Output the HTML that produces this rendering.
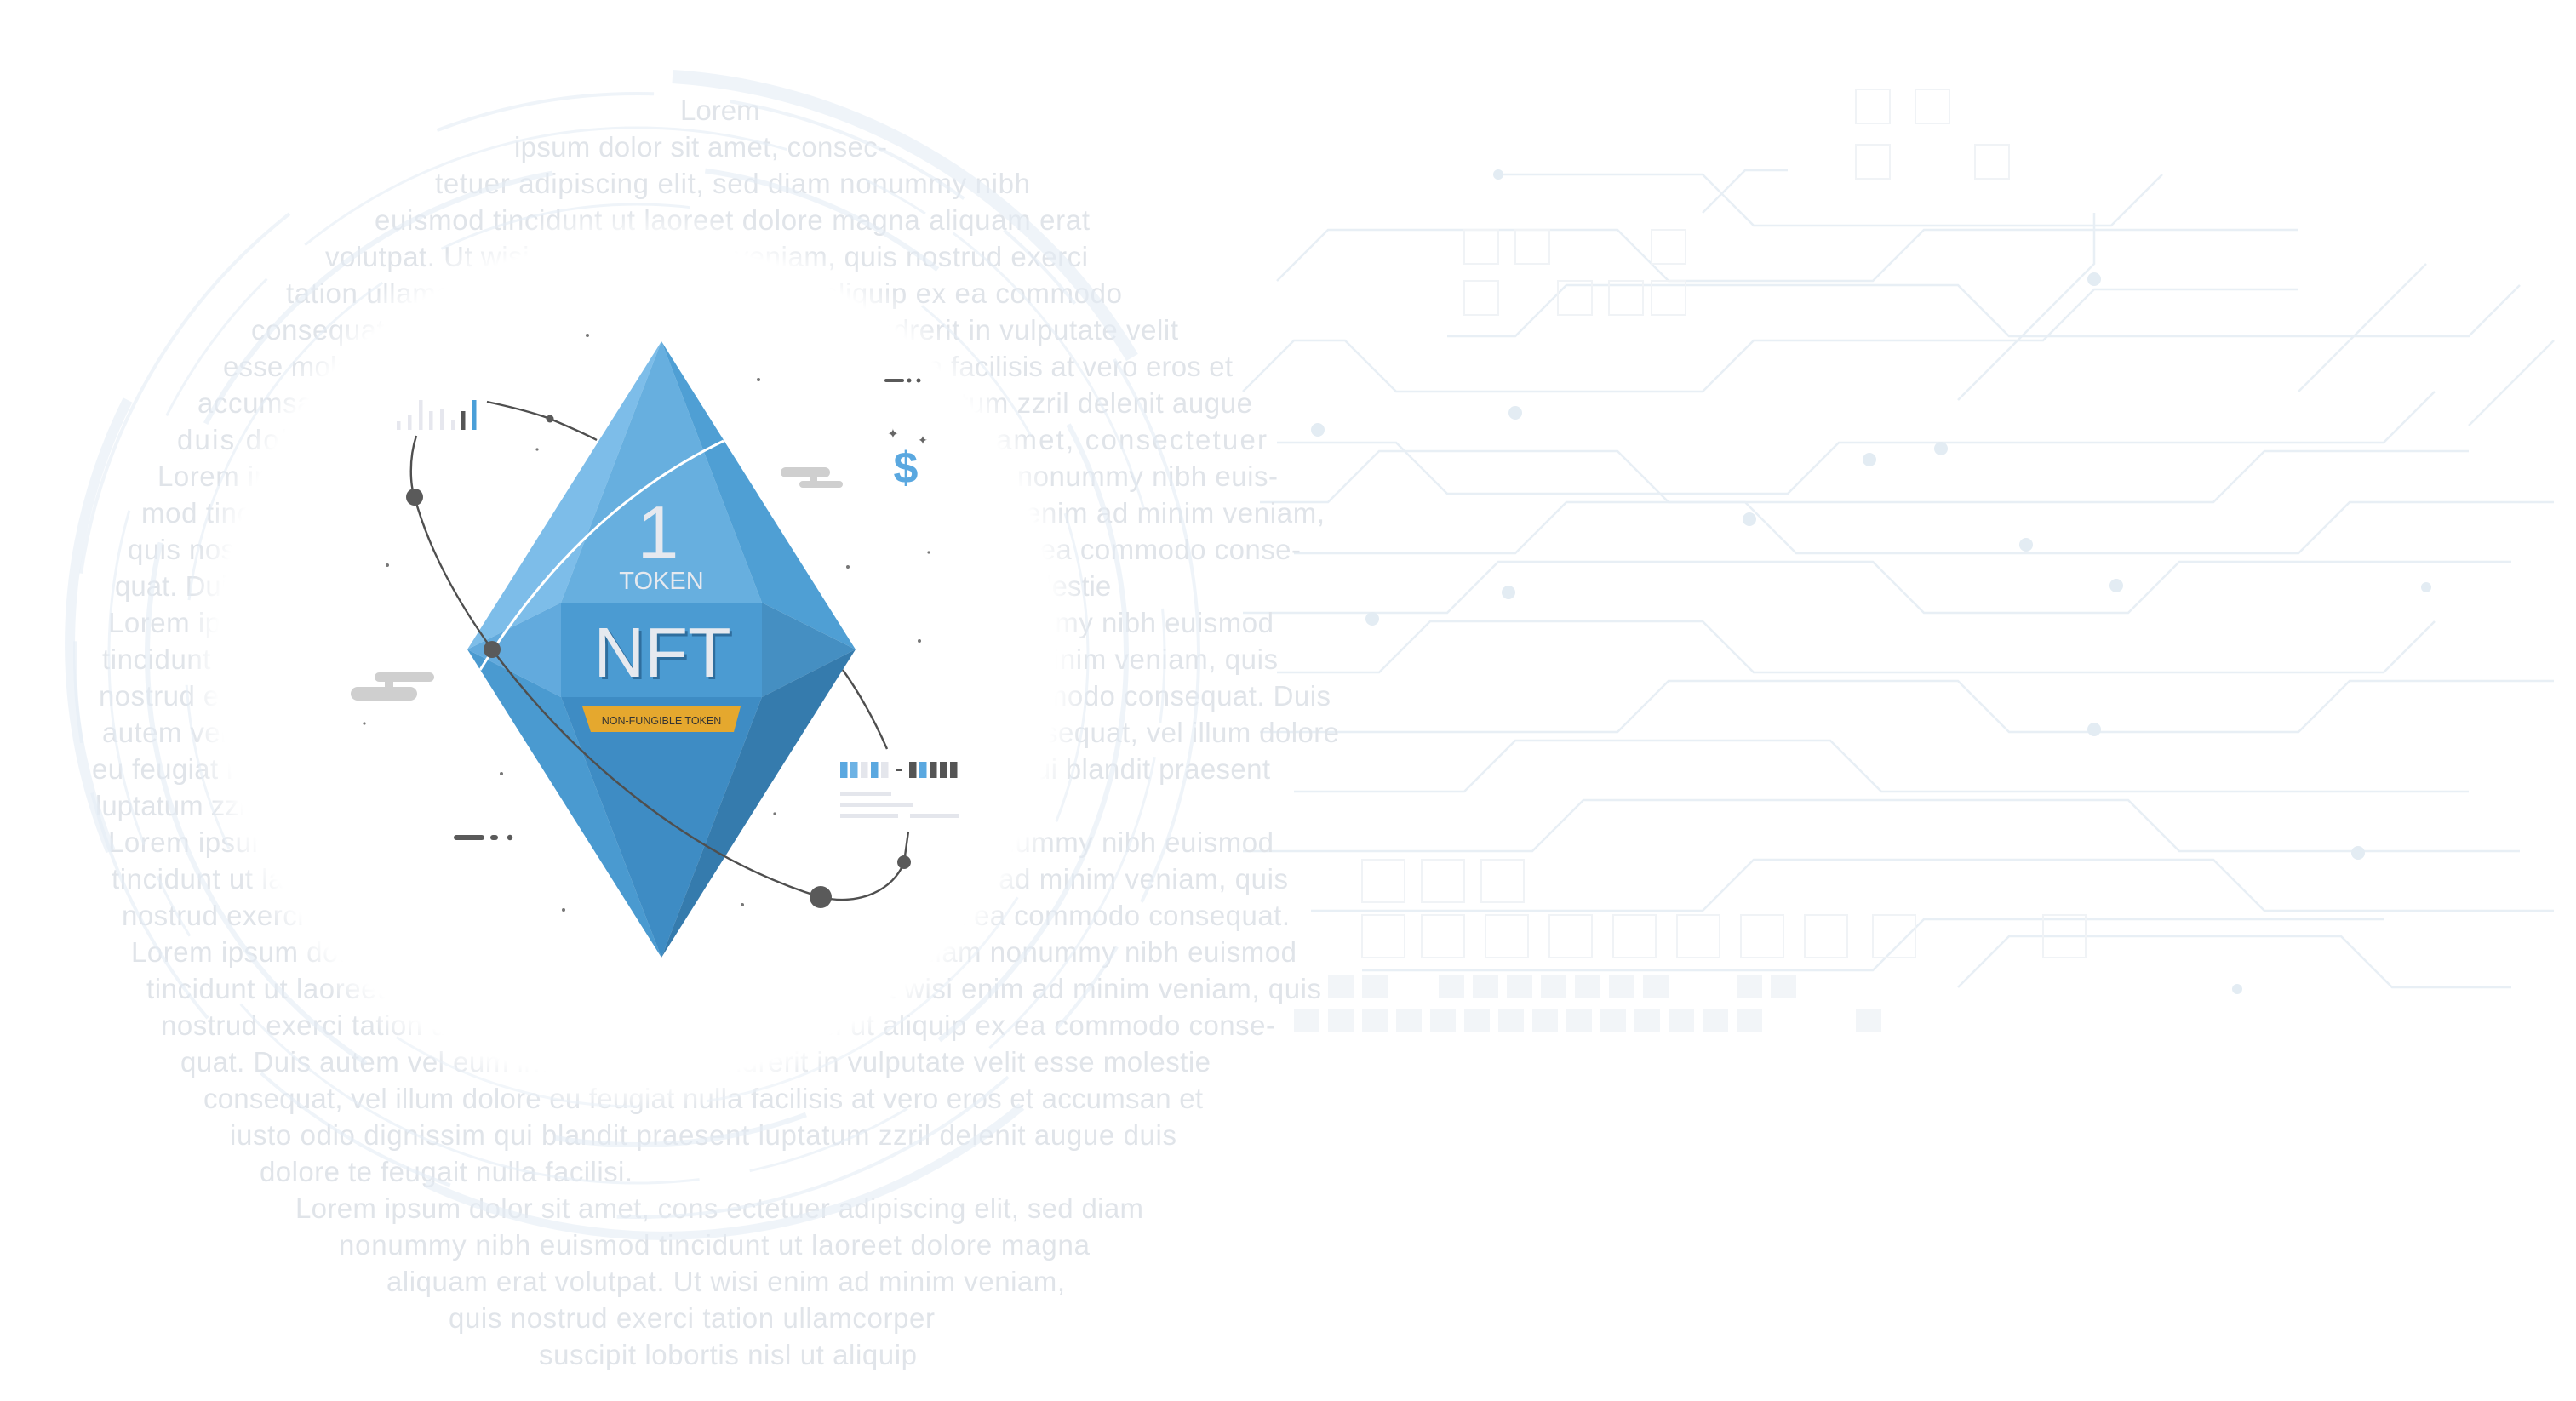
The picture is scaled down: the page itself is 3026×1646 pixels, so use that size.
<!DOCTYPE html>
<html><head><meta charset="utf-8"><style>
html,body{margin:0;padding:0;background:#fff;}
svg{display:block;}
</style></head><body>
<svg width="3026" height="1646" viewBox="0 0 3026 1646" xmlns="http://www.w3.org/2000/svg">
<defs>
<radialGradient id="wg" cx="0.5" cy="0.5" r="0.5">
<stop offset="0.93" stop-color="#fff" stop-opacity="1"/>
<stop offset="1" stop-color="#fff" stop-opacity="0"/>
</radialGradient>
</defs>
<rect width="3026" height="1646" fill="#ffffff"/>

<g fill="none" stroke="#e8eff5" stroke-width="2.5">
<polyline points="1760,205 2000,205 2060,265 2480,265 2540,205"/>
<polyline points="1500,330 1560,270 1900,270 1960,330 2200,330 2260,270 2700,270"/>
<polyline points="1700,395 1780,395 1840,335 2300,335 2360,395 2900,395 2960,335"/>
<polyline points="1460,460 1520,400 1580,400 1640,460 2000,460 2060,400 2400,400 2460,340 2700,340"/>
<polyline points="1500,520 1640,520 1700,580 2100,580 2160,520 2800,520 2860,460"/>
<polyline points="1480,590 1560,590 1620,530 1900,530 1960,590 2600,590 2660,530 2900,530"/>
<polyline points="1520,650 1780,650 1840,590 2050,590 2110,650 2700,650 2760,590 3000,590"/>
<polyline points="1460,720 1700,720 1760,660 2200,660 2260,720 2500,720 2560,660 2950,660"/>
<polyline points="1500,790 1620,790 1680,730 2000,730 2060,790 2800,790 2860,730"/>
<polyline points="1480,860 1900,860 1960,800 2300,800 2360,860 2700,860 2760,800 3000,800"/>
<polyline points="1520,930 1720,930 1780,870 2150,870 2210,930 2900,930"/>
<polyline points="1460,1000 1800,1000 1860,940 2500,940 2560,1000 2960,1000"/>
<polyline points="1540,1070 2000,1070 2060,1010 2600,1010 2660,1070 3000,1070"/>
<polyline points="1600,1140 2200,1140 2260,1080 2800,1080"/>
<polyline points="2300,1160 2360,1100 2750,1100 2810,1160 2950,1160"/>
<polyline points="2300,470 2460,310 2460,250"/>
<polyline points="2700,460 2850,310"/>
<polyline points="2900,500 3000,400"/>
<polyline points="2000,250 2050,200 2100,200"/>
<g fill="#e3ecf3" stroke="none">
<circle cx="1548" cy="505" r="8"/><circle cx="1780" cy="485" r="8"/><circle cx="2196" cy="540" r="8"/>
<circle cx="2280" cy="527" r="8"/><circle cx="2460" cy="328" r="8"/><circle cx="2055" cy="610" r="8"/>
<circle cx="2380" cy="640" r="8"/><circle cx="2486" cy="688" r="8"/><circle cx="1612" cy="727" r="8"/>
<circle cx="1772" cy="696" r="8"/><circle cx="2460" cy="857" r="8"/><circle cx="2770" cy="1002" r="8"/>
<circle cx="2628" cy="1162" r="6"/><circle cx="2850" cy="690" r="6"/><circle cx="1760" cy="205" r="6"/>
</g>
<g stroke="#f0f3f6" stroke-width="2">
<rect x="1720" y="270" width="40" height="40"/><rect x="1780" y="270" width="40" height="40"/><rect x="1940" y="270" width="40" height="40"/>
<rect x="1720" y="330" width="40" height="40"/><rect x="1830" y="330" width="40" height="40"/><rect x="1890" y="330" width="40" height="40"/><rect x="1940" y="330" width="40" height="40"/>
<rect x="2180" y="105" width="40" height="40"/><rect x="2250" y="105" width="40" height="40"/><rect x="2180" y="170" width="40" height="40"/><rect x="2320" y="170" width="40" height="40"/>
<rect x="1600" y="1010" width="50" height="50"/><rect x="1670" y="1010" width="50" height="50"/><rect x="1740" y="1010" width="50" height="50"/>
<rect x="1600" y="1075" width="50" height="50"/><rect x="1670" y="1075" width="50" height="50"/><rect x="1745" y="1075" width="50" height="50"/><rect x="1820" y="1075" width="50" height="50"/><rect x="1895" y="1075" width="50" height="50"/><rect x="1970" y="1075" width="50" height="50"/><rect x="2045" y="1075" width="50" height="50"/><rect x="2120" y="1075" width="50" height="50"/><rect x="2200" y="1075" width="50" height="50"/><rect x="2400" y="1075" width="50" height="50"/>
</g>
<g fill="#f2f5f8" stroke="none">
<rect x="1560" y="1145" width="30" height="28"/><rect x="1600" y="1145" width="30" height="28"/><rect x="1690" y="1145" width="30" height="28"/><rect x="1730" y="1145" width="30" height="28"/><rect x="1770" y="1145" width="30" height="28"/><rect x="1810" y="1145" width="30" height="28"/><rect x="1850" y="1145" width="30" height="28"/><rect x="1890" y="1145" width="30" height="28"/><rect x="1930" y="1145" width="30" height="28"/><rect x="2040" y="1145" width="30" height="28"/><rect x="2080" y="1145" width="30" height="28"/>
<rect x="1520" y="1185" width="30" height="28"/><rect x="1560" y="1185" width="30" height="28"/><rect x="1600" y="1185" width="30" height="28"/><rect x="1640" y="1185" width="30" height="28"/><rect x="1680" y="1185" width="30" height="28"/><rect x="1720" y="1185" width="30" height="28"/><rect x="1760" y="1185" width="30" height="28"/><rect x="1800" y="1185" width="30" height="28"/><rect x="1840" y="1185" width="30" height="28"/><rect x="1880" y="1185" width="30" height="28"/><rect x="1920" y="1185" width="30" height="28"/><rect x="1960" y="1185" width="30" height="28"/><rect x="2000" y="1185" width="30" height="28"/><rect x="2040" y="1185" width="30" height="28"/><rect x="2180" y="1185" width="30" height="28"/>
</g>
</g>

<g font-family="Liberation Sans, sans-serif" font-size="33" fill="#e0e4e9" lengthAdjust="spacingAndGlyphs">
<text x="799" y="141">Lorem</text>
<text x="604" y="184" textLength="438">ipsum dolor sit amet, consec-</text>
<text x="511" y="227" textLength="699">tetuer adipiscing elit, sed diam nonummy nibh</text>
<text x="440" y="270" textLength="840">euismod tincidunt ut laoreet dolore magna aliquam erat</text>
<text x="382" y="313" textLength="896">volutpat. Ut wisi enim ad minim veniam, quis nostrud exerci</text>
<text x="336" y="356" textLength="982">tation ullamcorper suscipit lobortis nisl ut aliquip ex ea commodo</text>
<text x="295" y="399" textLength="1089">consequat. Duis autem vel eum iriure dolor in hendrerit in vulputate velit</text>
<text x="262" y="442" textLength="1186">esse molestie consequat, vel illum dolore eu feugiat nulla facilisis at vero eros et</text>
<text x="232" y="485" textLength="1239">accumsan et iusto odio dignissim qui blandit praesent luptatum zzril delenit augue</text>
<text x="208" y="528" textLength="1280">duis dolore te feugait nulla facilisi. Lorem ipsum dolor sit amet, consectetuer</text>
<text x="185" y="571" textLength="1316">Lorem ipsum dolor sit amet, consectetuer adipiscing elit, sed diam nonummy nibh euis-</text>
<text x="166" y="614" textLength="1390">mod tincidunt ut laoreet dolore magna aliquam erat volutpat. Ut wisi enim ad minim veniam,</text>
<text x="150" y="657" textLength="1378">quis nostrud exerci tation ullamcorper suscipit lobortis nisl ut aliquip ex ea commodo conse-</text>
<text x="135" y="700">quat. Duis autem vel eum iriure dolor in hendrerit in vulputate velit esse molestie</text>
<text x="127" y="743" textLength="1369">Lorem ipsum dolor sit amet, consectetuer adipiscing elit, sed diam nonummy nibh euismod</text>
<text x="120" y="786" textLength="1381">tincidunt ut laoreet dolore magna aliquam erat volutpat. Ut wisi enim ad minim veniam, quis</text>
<text x="116" y="829" textLength="1447">nostrud exerci tation ullamcorper suscipit lobortis nisl ut aliquip ex ea commodo consequat. Duis</text>
<text x="120" y="872" textLength="1453">autem vel eum iriure dolor in hendrerit in vulputate velit esse molestie consequat, vel illum dolore</text>
<text x="108" y="915" textLength="1384">eu feugiat nulla facilisis at vero eros et accumsan et iusto odio dignissim qui blandit praesent</text>
<text x="112" y="958">luptatum zzril delenit augue duis dolore te feugait nulla facilisi.</text>
<text x="127" y="1001" textLength="1369">Lorem ipsum dolor sit amet, consectetuer adipiscing elit, sed diam nonummy nibh euismod</text>
<text x="131" y="1044" textLength="1382">tincidunt ut laoreet dolore magna aliquam erat volutpat. Ut wisi enim ad minim veniam, quis</text>
<text x="143" y="1087" textLength="1372">nostrud exerci tation ullamcorper suscipit lobortis nisl ut aliquip ex ea commodo consequat.</text>
<text x="154" y="1130" textLength="1369">Lorem ipsum dolor sit amet, consectetuer adipiscing elit, sed diam nonummy nibh euismod</text>
<text x="172" y="1173" textLength="1380">tincidunt ut laoreet dolore magna aliquam erat volutpat. Ut wisi enim ad minim veniam, quis</text>
<text x="189" y="1216" textLength="1309">nostrud exerci tation ullamcorper suscipit lobortis nisl ut aliquip ex ea commodo conse-</text>
<text x="212" y="1259" textLength="1210">quat. Duis autem vel eum iriure dolor in hendrerit in vulputate velit esse molestie</text>
<text x="239" y="1302" textLength="1174">consequat, vel illum dolore eu feugiat nulla facilisis at vero eros et accumsan et</text>
<text x="270" y="1345" textLength="1112">iusto odio dignissim qui blandit praesent luptatum zzril delenit augue duis</text>
<text x="305" y="1388" textLength="438">dolore te feugait nulla facilisi.</text>
<text x="347" y="1431" textLength="996">Lorem ipsum dolor sit amet, cons ectetuer adipiscing elit, sed diam</text>
<text x="398" y="1474" textLength="882">nonummy nibh euismod tincidunt ut laoreet dolore magna</text>
<text x="454" y="1517" textLength="797">aliquam erat volutpat. Ut wisi enim ad minim veniam,</text>
<text x="527" y="1560" textLength="571">quis nostrud exerci tation ullamcorper</text>
<text x="633" y="1603" textLength="444">suscipit lobortis nisl ut aliquip</text>
</g>

<g fill="none" stroke="#e4edf5" stroke-opacity="0.6">
<circle cx="748" cy="770" r="660" stroke-width="4" stroke-dasharray="300 60 120 80 500 200 260 90"/>
<circle cx="748" cy="770" r="620" stroke-width="3" stroke-dasharray="80 40 400 120 200 60 600 100"/>
<circle cx="748" cy="770" r="575" stroke-width="6" stroke-dasharray="520 180 300 240 700 150"/>
<circle cx="748" cy="770" r="530" stroke-width="3" stroke-dasharray="200 100 450 80 300 300"/>
<path d="M790,90 A680,680 0 0 1 1330,420" stroke-width="16"/>
<path d="M150,470 A640,640 0 0 0 130,1000" stroke-width="12"/>
<path d="M500,1390 A660,660 0 0 0 1200,1300" stroke-width="10"/>
</g>

<circle cx="748" cy="777" r="530" fill="url(#wg)"/>

<g>
<polygon points="777,401 549,763 659,708" fill="#7dbde9"/>
<polygon points="777,401 659,708 895,708" fill="#67afdf"/>
<polygon points="777,401 895,708 1005,763" fill="#4f9fd4"/>
<polygon points="549,763 659,708 659,819" fill="#62aadd"/>
<polygon points="659,708 895,708 895,819 659,819" fill="#4b9bd2"/>
<polygon points="1005,763 895,708 895,819" fill="#458fc2"/>
<polygon points="549,763 659,819 777,1125" fill="#4a9ad0"/>
<polygon points="659,819 895,819 777,1125" fill="#3e8cc4"/>
<polygon points="895,819 1005,763 777,1125" fill="#357bad"/>
<path d="M850,518 Q680,600 564,787" fill="none" stroke="#ffffff" stroke-width="3"/>
<text x="773" y="656" text-anchor="middle" font-family="Liberation Sans, sans-serif" font-size="88" fill="#e6e9ef">1</text>
<text x="777" y="692" text-anchor="middle" font-family="Liberation Sans, sans-serif" font-size="29" fill="#e6e9ef">TOKEN</text>
<text x="781" y="798" text-anchor="middle" font-family="Liberation Sans, sans-serif" font-size="83" fill="#2f6e9e">NFT</text>
<text x="778" y="795" text-anchor="middle" font-family="Liberation Sans, sans-serif" font-size="83" fill="#e6e9ef">NFT</text>
<polygon points="684,830 870,830 862,860 694,860" fill="#e5a82e"/>
<text x="777" y="851" text-anchor="middle" font-family="Liberation Sans, sans-serif" font-size="12.5" fill="#333">NON-FUNGIBLE TOKEN</text>
</g>

<g fill="none" stroke="#4f4f4f" stroke-width="2.4">
<path d="M572,472 C600,478 625,484 646,492 C665,500 684,508 701,517"/>
<path d="M489,512 C480,540 482,570 487,584 C505,650 540,710 578,763 C680,900 820,1010 964,1054 C1010,1065 1050,1045 1062,1013 L1067,977"/>
<path d="M990,787 C1010,815 1028,848 1042,880"/>
</g>
<g fill="#5a5a5a">
<circle cx="646" cy="492" r="4.5"/><circle cx="487" cy="584" r="10"/><circle cx="578" cy="763" r="10"/>
<circle cx="964" cy="1054" r="13"/><circle cx="1062" cy="1013" r="8"/>
</g>

<g>
<rect x="466" y="495" width="4.5" height="10" fill="#e6e7ee"/>
<rect x="479" y="488" width="4.5" height="17" fill="#e6e7ee"/>
<rect x="492" y="470" width="4.5" height="35" fill="#e6e7ee"/>
<rect x="504" y="483" width="4.5" height="22" fill="#e6e7ee"/>
<rect x="517" y="480" width="4.5" height="25" fill="#e6e7ee"/>
<rect x="530" y="493" width="4.5" height="12" fill="#e6e7ee"/>
<rect x="542" y="483" width="4.5" height="22" fill="#555"/>
<rect x="555" y="470" width="4.5" height="35" fill="#4a9fd8"/>
</g>

<g fill="#cfcfcf">
<rect x="440" y="790" width="70" height="11" rx="5.5"/>
<rect x="412" y="807" width="78" height="16" rx="8"/>
<rect x="452" y="798" width="10" height="12"/>
</g>
<g fill="#cfcfcf">
<rect x="917" y="549" width="58" height="12" rx="6"/>
<rect x="939" y="565" width="51" height="8" rx="4"/>
<rect x="952" y="558" width="8" height="9"/>
</g>

<text x="1064" y="567" text-anchor="middle" font-family="Liberation Sans, sans-serif" font-weight="bold" font-size="52" fill="#5aa8e0">$</text>
<text x="1049" y="515" text-anchor="middle" font-family="DejaVu Sans, sans-serif" font-size="16" fill="#666">✦</text>
<text x="1084" y="522" text-anchor="middle" font-family="DejaVu Sans, sans-serif" font-size="14" fill="#666">✦</text>

<g fill="#5a5a5a">
<rect x="1039" y="445" width="23" height="4" rx="2"/><circle cx="1068" cy="447" r="2.5"/><circle cx="1079" cy="447" r="2.5"/>
<rect x="533" y="981" width="36" height="6" rx="3"/><rect x="576" y="981" width="9" height="6" rx="3"/><circle cx="599" cy="984" r="3.2"/>
</g>

<g>
<rect x="987" y="895" width="8.5" height="19" fill="#5aa8e0"/>
<rect x="999" y="895" width="8.5" height="19" fill="#6db2e4"/>
<rect x="1011" y="895" width="8.5" height="19" fill="#e4e6ec"/>
<rect x="1023" y="895" width="8.5" height="19" fill="#5aa8e0"/>
<rect x="1035" y="895" width="8.5" height="19" fill="#e4e6ec"/>
<rect x="1052" y="904" width="7" height="2" fill="#555"/>
<rect x="1068" y="895" width="8.5" height="19" fill="#555"/>
<rect x="1080" y="895" width="8.5" height="19" fill="#5aa8e0"/>
<rect x="1092" y="895" width="8.5" height="19" fill="#555"/>
<rect x="1104" y="895" width="8.5" height="19" fill="#555"/>
<rect x="1116" y="895" width="8.5" height="19" fill="#555"/>
<rect x="987" y="930" width="60" height="5" fill="#e4e6ec"/>
<rect x="987" y="943" width="86" height="5" fill="#e4e6ec"/>
<rect x="987" y="956" width="68" height="5" fill="#e4e6ec"/>
<rect x="1069" y="956" width="57" height="5" fill="#e4e6ec"/>
</g>

<g fill="#777">
<circle cx="690" cy="394" r="2"/><circle cx="891" cy="446" r="2"/><circle cx="631" cy="528" r="1.6"/>
<circle cx="455" cy="664" r="2"/><circle cx="996" cy="666" r="2"/><circle cx="1091" cy="649" r="1.6"/>
<circle cx="1080" cy="753" r="2"/><circle cx="428" cy="850" r="1.6"/><circle cx="589" cy="909" r="2"/>
<circle cx="910" cy="956" r="1.6"/><circle cx="662" cy="1069" r="2"/><circle cx="872" cy="1063" r="2"/>
</g>
</svg>
</body></html>
